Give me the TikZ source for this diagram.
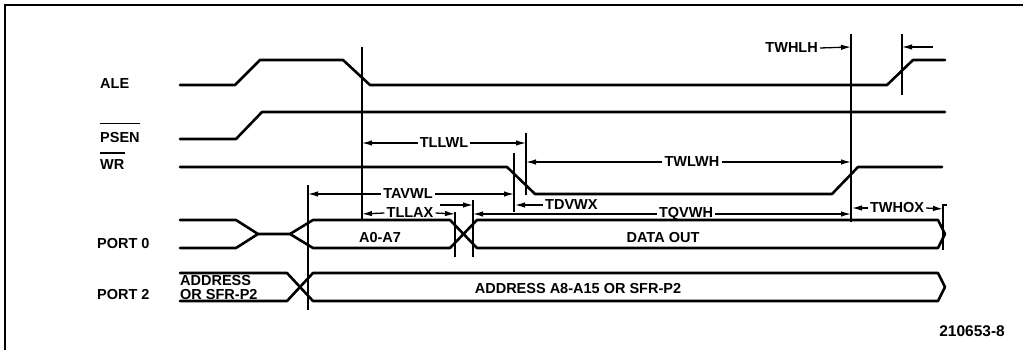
\documentclass[tikz,border=0pt]{standalone}
\usepackage{fontspec}
\setmainfont{Liberation Sans}
\usetikzlibrary{arrows.meta}
\begin{document}
\begin{tikzpicture}[x=1pt,y=-1pt,
  sig/.style={line width=2.6pt, line join=round, line cap=round},
  guide/.style={line width=1.4pt},
  dim/.style={line width=1.3pt, -{Latex[length=10pt,width=5.5pt]}},
  lbl/.style={font=\fontsize{14.5}{14.5}\selectfont\bfseries, inner sep=0pt},
  tlbl/.style={lbl, inner xsep=2pt},
  bar/.style={line width=1.5pt}
]
\useasboundingbox (0,0) rectangle (1023,350);
% frame (cropped at right and bottom)
\draw[line width=2pt] (5,350) -- (5,5) -- (1023,5);

% signal names
\node[lbl, anchor=base west] (ale) at (100,89) {ALE};
\node[lbl, anchor=base west] (psen) at (100,143) {PSEN};
\node[lbl, anchor=base west] (wr) at (100,169) {WR};
\node[lbl, anchor=base west] (p0) at (97,248) {PORT 0};
\node[lbl, anchor=base west] (p2) at (97,299) {PORT 2};
\draw[bar] ([yshift=9pt]psen.north west) -- ([yshift=9pt]psen.north east);
\draw[bar] ([yshift=6pt]wr.north west) -- ([yshift=6pt]wr.north east);

% ALE
\draw[sig] (180,85) -- (235,85) -- (260,60) -- (343,60) -- (370,85) -- (887,85) -- (913,60) -- (945,60);
% PSEN
\draw[sig] (180,139) -- (236,139) -- (262,112) -- (945,112);
% WR
\draw[sig] (180,167) -- (507,167) -- (535,194) -- (832,194) -- (858,167) -- (942,167);
% PORT 0
\draw[sig] (180,220) -- (236,220) -- (258,234) -- (290,234) -- (313,220) -- (450,220) -- (477,248) -- (938,248) -- (945,234);
\draw[sig] (180,248) -- (236,248) -- (258,234);
\draw[sig] (290,234) -- (313,248) -- (450,248) -- (477,220) -- (938,220) -- (945,234);
\node[lbl, anchor=base] (a07) at (380,242) {A0-A7};
\node[lbl, anchor=base] (dout) at (663,242) {DATA OUT};
% PORT 2
\draw[sig] (180,273) -- (287,273) -- (313,301) -- (938,301) -- (945,287);
\draw[sig] (180,301) -- (287,301) -- (313,273) -- (938,273) -- (945,287);
\node[lbl, anchor=base west] (addr1) at (180,285) {ADDRESS};
\node[lbl, anchor=base west] (addr2) at (180,299) {OR SFR-P2};
\node[lbl, anchor=base] (addrbus) at (578,293) {ADDRESS A8-A15 OR SFR-P2};

% reference lines
\coordinate (v1t) at (362,47);  \coordinate (v1b) at (362,220);
\coordinate (v2t) at (308,185); \coordinate (v2b) at (308,310);
\coordinate (v3t) at (526,133); \coordinate (v3b) at (526,195);
\coordinate (v4t) at (514,153); \coordinate (v4b) at (514,212);
\coordinate (vat) at (455,212); \coordinate (vab) at (455,257);
\coordinate (vbt) at (473,200); \coordinate (vbb) at (473,257);
\coordinate (v5t) at (851,34);  \coordinate (v5b) at (851,222);
\coordinate (v6t) at (902,34);  \coordinate (v6b) at (902,95);
\coordinate (v7t) at (943,205); \coordinate (v7b) at (943,250);
\draw[guide] (v1t) -- (v1b);
\draw[guide] (v2t) -- (v2b);
\draw[guide] (v3t) -- (v3b);
\draw[guide] (v4t) -- (v4b);
\draw[guide] (vat) -- (vab);
\draw[guide] (vbt) -- (vbb);
\draw[guide] (v5t) -- (v5b);
\draw[guide] (v6t) -- (v6b);
\draw[guide] (v7b) -- (v7t) -- ++(4,0);

% TLLWL
\node[tlbl] (tllwl) at (444,143) {TLLWL};
\coordinate (tllwlL) at (362,143); \coordinate (tllwlR) at (526,143);
\draw[dim] (tllwl.west) -- (tllwlL);
\draw[dim] (tllwl.east) -- (tllwlR);
% TWLWH
\node[tlbl] (twlwh) at (692,162) {TWLWH};
\coordinate (twlwhL) at (526,162); \coordinate (twlwhR) at (851,162);
\draw[dim] (twlwh.west) -- (twlwhL);
\draw[dim] (twlwh.east) -- (twlwhR);
% TAVWL
\node[tlbl] (tavwl) at (408,194) {TAVWL};
\coordinate (tavwlL) at (308,194); \coordinate (tavwlR) at (514,194);
\draw[dim] (tavwl.west) -- (tavwlL);
\draw[dim] (tavwl.east) -- (tavwlR);
% TLLAX
\node[tlbl] (tllax) at (410,213) {TLLAX};
\coordinate (tllaxL) at (362,214); \coordinate (tllaxR) at (455,214);
\draw[dim] (tllax.west) -- (tllaxL);
\draw[dim] (tllax.east) -- (tllaxR);
% TDVWX
\node[tlbl, anchor=west] (tdvwx) at (543,205) {TDVWX};
\coordinate (tdvwxR) at (515,205);
\coordinate (tdvwxS) at (440,205); \coordinate (tdvwxL) at (473,205);
\draw[dim] (tdvwx.west) -- (tdvwxR);
\draw[dim] (tdvwxS) -- (tdvwxL);
% TQVWH
\node[tlbl] (tqvwh) at (686,214) {TQVWH};
\coordinate (tqvwhL) at (473,214); \coordinate (tqvwhR) at (851,214);
\draw[dim] (tqvwh.west) -- (tqvwhL);
\draw[dim] (tqvwh.east) -- (tqvwhR);
% TWHOX
\node[tlbl] (twhox) at (897,208) {TWHOX};
\coordinate (twhoxL) at (852,208); \coordinate (twhoxR) at (943,209);
\draw[dim] (twhox.west) -- (twhoxL);
\draw[dim] (twhox.east) -- (twhoxR);
% TWHLH
\node[tlbl, anchor=east] (twhlh) at (820,48) {TWHLH};
\coordinate (twhlhR) at (851,47);
\coordinate (twhlhS) at (933,47); \coordinate (twhlhL) at (902,47);
\draw[dim] (twhlh.east) -- (twhlhR);
\draw[dim] (twhlhS) -- (twhlhL);

% figure number
\node[lbl, anchor=base east, font=\fontsize{15.5}{15.5}\selectfont\bfseries] (fig) at (1005,336) {210653-8};
\end{tikzpicture}
\end{document}
